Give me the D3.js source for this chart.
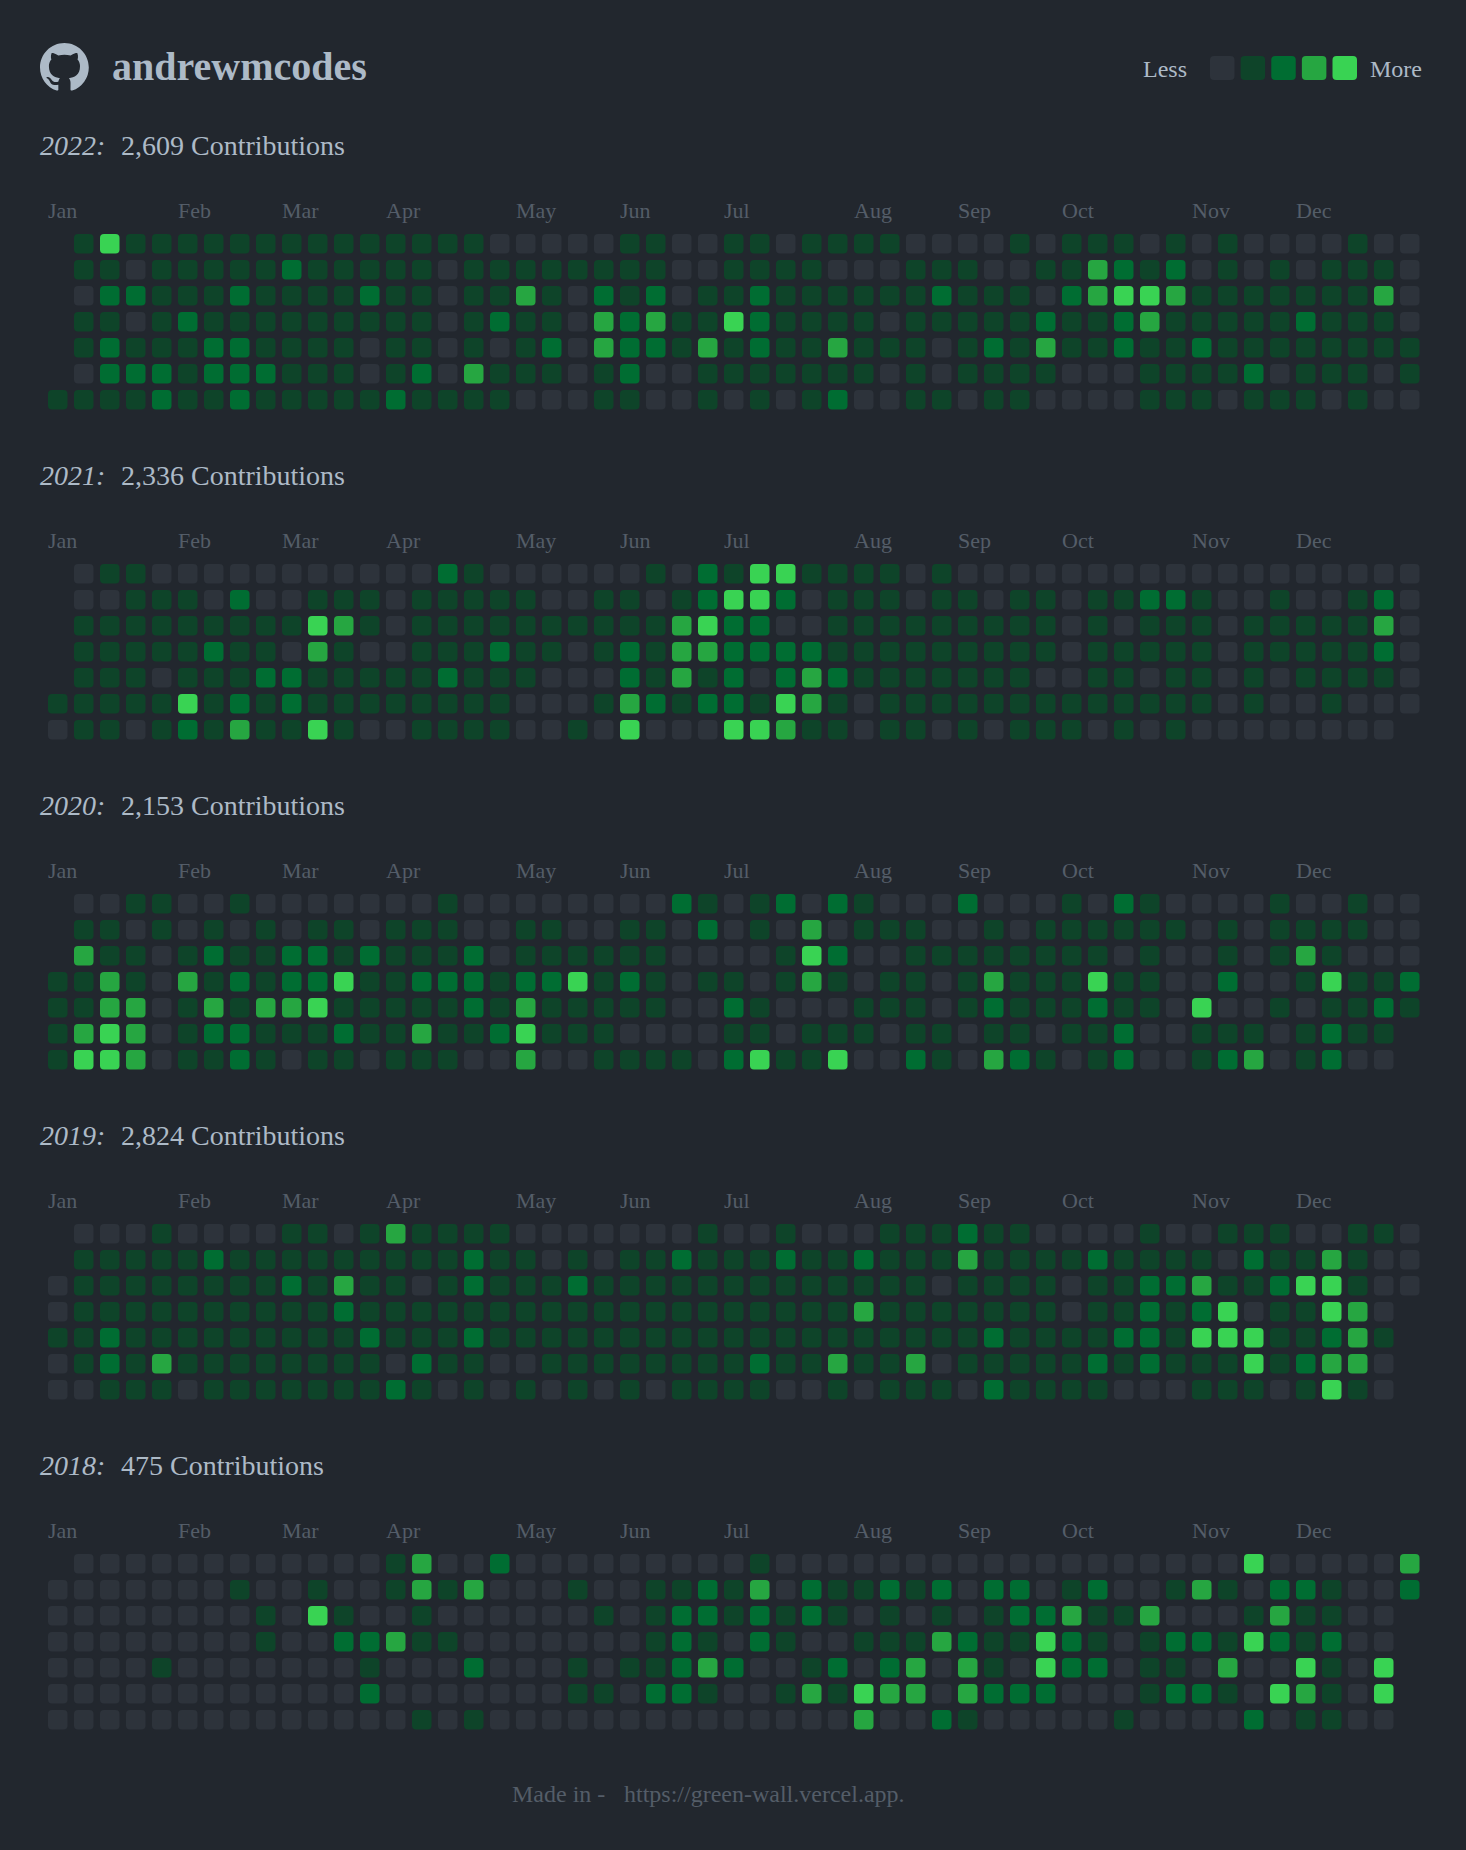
<!DOCTYPE html>
<meta charset="utf-8">
<style>
body {
  margin: 0;
  background: #22272e;
}
svg {
  display: block;
  font-family: "Liberation Serif", "Times New Roman", serif;
}
</style>
<svg width="1466" height="1850"></svg>
<script src="https://d3js.org/d3.v7.min.js"></script>
<script>

var user = "andrewmcodes";
var years = [2022, 2021, 2020, 2019, 2018];
var totals = [2609, 2336, 2153, 2824, 475];
var monthNames = ["Jan","Feb","Mar","Apr","May","Jun","Jul","Aug","Sep","Oct","Nov","Dec"];
var monthWeeks = [0, 5, 9, 13, 18, 22, 26, 31, 35, 39, 44, 48];
var levels = [0, 1, 2, 3, 4];
var levelColors = ["#2d333b", "#0e4429", "#006d32", "#26a641", "#39d353"];

// one string per weekday (Sun..Sat), one char per week column, "." = no day
var grid2022 = [
  ". 1411111111 1111110000 0110011011 1100001011 1010100001 00",
  ". 1101111121 1111011111 1110011110 0011100113 2120101011 10",
  ". 0221112111 1211011310 2120112111 1112111023 4431111111 30",
  ". 1101211111 1111012110 3231142111 1011111211 2311111211 10",
  ". 1211122111 1011010120 3221312113 1110121311 2112111111 11",
  ". 0222122211 1012031110 1200111111 1010111100 0111120111 01",
  "1 1112112111 1121111000 1100101012 0011011000 0111011101 00"
];
var grid2021 = [
  ". 0110000000 0000210000 0010214411 1101000000 0000000000 00",
  ". 0011102001 1101111100 1101244201 1101101101 1221001001 20",
  ". 1111111114 3101111111 1113422001 1111111101 0111011111 30",
  ". 1111121103 1001112110 1213322221 1111111101 1111011111 20",
  ". 1110111221 1111211100 0213120232 1111111001 1011010111 10",
  "1 1111412121 1111111000 1321221431 0111111111 1111010010 00",
  "0 1101213114 1001111001 0400044311 0110101110 1010000000 0."
];
var grid2020 = [
  ". 0011001000 0000100000 0002101202 1000200010 2100001001 00",
  ". 1101010101 1011100110 0110201030 1110010111 1110101111 00",
  ". 3110121122 1211120111 1110000142 0011111111 0100101310 00",
  "1 1310312122 4112221224 1210110131 0110131114 1100200141 12",
  "1 1330131334 1111121311 1110021000 1110121112 1104001011 21",
  "1 3430122111 2113112411 1000011011 1011011011 2001110121 1.",
  "1 4430112101 1011100300 1111024114 0021032101 2001230120 0."
];
var grid2019 = [
  ". 0001000011 0131111000 0000100100 0111211000 0100111001 10",
  ". 1111121111 1111121101 0112111211 2111311112 1111021131 00",
  "0 1111111121 3110121112 1111111111 1110111101 1223112441 00",
  "0 1111111111 2111111111 1111111111 3111111101 1212401143 0.",
  "1 1211111111 1211121111 1111111111 1111121111 2214441123 1.",
  "0 1213111111 1102110011 1111112113 1130111112 1211141233 0.",
  "0 0111011111 1121010101 0101111001 0111021111 0001110141 0."
];
var grid2018 = [
  ". 0000000000 0013002000 0000001000 0000000000 0000040000 03",
  "0 0000001001 0013130001 0011213021 1212022012 0013102210 02",
  "0 0000000104 1001000000 1012212121 0101012231 1300013110 0.",
  "0 0000000100 2231100000 0012102100 1113211421 0122142120 0.",
  "0 0001000000 0100020001 0112320012 0230310422 0110300410 4.",
  "0 0000000000 0200000001 1022100131 4330322200 0122104310 4.",
  "0 0000000000 0001010000 0000000000 3002100000 1000020110 0."
];
var grids = [grid2022, grid2021, grid2020, grid2019, grid2018];

var svg = d3.select("svg");

var x = d3.scaleBand()
    .domain(d3.range(53))
    .range([48, 48 + 52 * 26 + 19.5])
    .paddingInner(0.25);

var y = d3.scaleBand()
    .domain(d3.range(7))
    .range([0, 6 * 26 + 19.5])
    .paddingInner(0.25);

var colour = d3.scaleOrdinal().domain(levels).range(levelColors);

var blockY = d3.scaleLinear().domain([0, 1]).range([0, 330]);

var fmt = d3.format(",");

// header
svg.append("path")
    .attr("d", "M8 0C3.58 0 0 3.58 0 8c0 3.54 2.29 6.53 5.47 7.59.4.07.55-.17.55-.38 0-.19-.01-.82-.01-1.49-2.01.37-2.53-.49-2.69-.94-.09-.23-.48-.94-.82-1.13-.28-.15-.68-.52-.01-.53.63-.01 1.08.58 1.23.82.72 1.21 1.87.87 2.33.66.07-.52.28-.87.51-1.07-1.78-.2-3.64-.89-3.64-3.95 0-.87.31-1.59.82-2.15-.08-.2-.36-1.02.08-2.12 0 0 .67-.21 2.2.82.64-.18 1.32-.27 2-.27.68 0 1.36.09 2 .27 1.53-1.04 2.2-.82 2.2-.82.44 1.1.16 1.92.08 2.12.51.56.82 1.27.82 2.15 0 3.07-1.87 3.75-3.65 3.95.29.25.54.73.54 1.48 0 1.07-.01 1.93-.01 2.2 0 .21.15.46.55.38A8.013 8.013 0 0016 8c0-4.42-3.58-8-8-8z")
    .attr("transform", "translate(40,43) scale(3.05)")
    .style("fill", "#adbac7");

svg.append("text")
    .attr("x", 112).attr("y", 80)
    .style("font-size", "40px").style("font-weight", "bold")
    .style("fill", "#adbac7")
    .text(user);

// legend
var legendX = d3.scaleBand().domain(levels).range([1210, 1357]).paddingInner(0.2);

svg.append("text")
    .attr("x", 1143).attr("y", 77)
    .style("font-size", "24px").style("fill", "#adbac7")
    .text("Less");

svg.selectAll("rect.legend")
  .data(levels).enter()
  .append("rect").attr("class", "legend")
    .attr("x", function(d){ return legendX(d); })
    .attr("y", 56)
    .attr("width", legendX.bandwidth())
    .attr("height", 24)
    .attr("rx", 4)
    .style("fill", function(d){ return colour(d); });

svg.append("text")
    .attr("x", 1370).attr("y", 77)
    .style("font-size", "24px").style("fill", "#adbac7")
    .text("More");

// one block per year
years.forEach(function(year, i){
  var g = svg.append("g")
      .attr("transform", "translate(0," + blockY(i) + ")");

  var title = g.append("text")
      .attr("y", 155)
      .style("font-size", "28px").style("fill", "#adbac7");
  title.append("tspan").attr("x", 40).style("font-style", "italic").text(year + ":");
  title.append("tspan").attr("x", 121).text(fmt(totals[i]) + " Contributions");

  g.selectAll("text.month")
    .data(monthNames).enter()
    .append("text").attr("class", "month")
      .attr("x", function(d, j){ return x(monthWeeks[j]); })
      .attr("y", 218)
      .style("font-size", "22px").style("fill", "#545d68")
      .text(function(d){ return d; });

  var cells = [];
  grids[i].forEach(function(row, day){
    row.replace(/ /g, "").split("").forEach(function(ch, week){
      if (ch !== ".") cells.push({week: week, day: day, level: +ch});
    });
  });

  g.append("g")
      .attr("transform", "translate(0,234)")
    .selectAll("rect")
    .data(cells).enter()
    .append("rect")
      .attr("x", function(d){ return x(d.week); })
      .attr("y", function(d){ return y(d.day); })
      .attr("width", x.bandwidth())
      .attr("height", y.bandwidth())
      .attr("rx", 4)
      .style("fill", function(d){ return colour(d.level); });
});

// footer
svg.append("text")
    .attr("x", 512).attr("y", 1802)
    .style("font-size", "24px").style("fill", "#545d68")
    .text("Made in -");

svg.append("text")
    .attr("x", 624).attr("y", 1802)
    .style("font-size", "24px").style("fill", "#545d68")
    .text("https://green-wall.vercel.app.");

</script>
